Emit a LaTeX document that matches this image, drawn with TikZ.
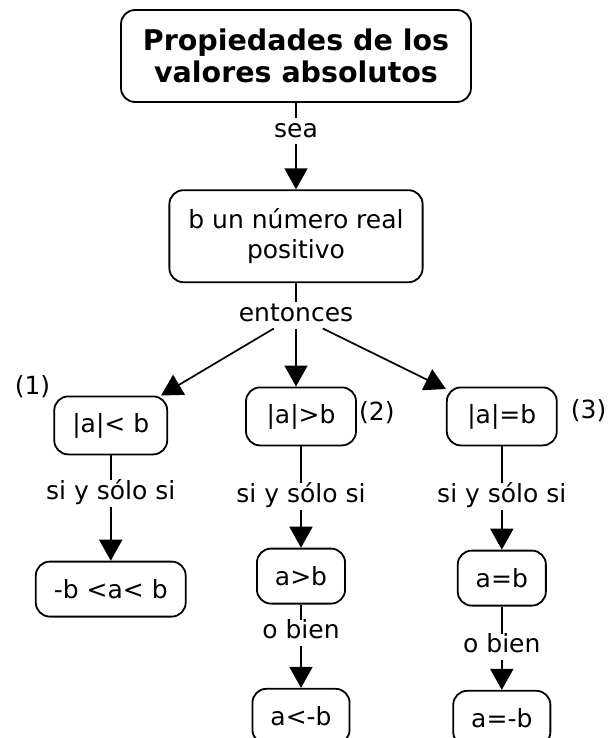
\documentclass[tikz,border=0pt]{standalone}
\usepackage{fontspec}
\setmainfont{DejaVu Sans}
\usetikzlibrary{positioning,arrows.meta}

\begin{document}
\begin{tikzpicture}[
    font=\fontsize{25}{30}\selectfont,
    node distance=20pt,
    caja/.style={draw, rounded corners=14pt, line width=1.8pt, align=center,
                 inner xsep=18pt, minimum height=55pt},
    prop/.style={caja, minimum width=110pt, minimum height=58pt},
    titulo/.style={caja, font=\fontsize{28.5}{32}\selectfont\bfseries,
                   minimum width=350pt, minimum height=92pt},
    enlace/.style={inner sep=2pt, text height=17pt, text depth=5pt},
    num/.style={inner sep=1pt},
    lin/.style={line width=1.7pt},
    arr/.style={lin, -{Triangle[length=21pt, width=23pt]}}
]
\useasboundingbox (0,0) rectangle (608pt,-738pt);
\node[titulo] (tit) at (296pt,-56pt) {Propiedades de los\\valores absolutos};
\node[enlace, below=15pt of tit] (sea) {sea};
\node[caja, below=45pt of sea, minimum height=92pt, inner xsep=19pt] (real) {b un número real\\positivo};
\node[enlace, below=19pt of real] (ent) {entonces};
\node[prop, below=58pt of ent, xshift=5pt] (abs2) {|a|>b};
\node[prop, left=77pt of abs2, yshift=-9pt] (abs1) {|a|< b};
\node[prop, right=89pt of abs2] (abs3) {|a|=b};
\node[num, above left=-3pt and 2pt of abs1.north west] (n1) {(1)};
\node[num, right=1pt of abs2, yshift=4pt] (n2) {(2)};
\node[num, right=12pt of abs3, yshift=6pt] (n3) {(3)};
\node[enlace, below=25pt of abs1] (si1) {si y sólo si};
\node[caja, below=54pt of si1] (res1) {-b <a< b};
\node[enlace, below=37pt of abs2] (si2) {si y sólo si};
\node[caja, below=38pt of si2] (res2a) {a>b};
\node[enlace, below=15pt of res2a] (ob2) {o bien};
\node[caja, below=42pt of ob2] (res2b) {a<-b};
\node[enlace, below=37pt of abs3] (si3) {si y sólo si};
\node[caja, below=40pt of si3] (res3a) {a=b};
\node[enlace, below=27pt of res3a] (ob3) {o bien};
\node[caja, below=30pt of ob3] (res3b) {a=-b};
\draw[lin] (tit) -- (sea);
\draw[arr] (sea) -- (real);
\draw[lin] (real) -- (ent);
\draw[arr] (ent) -- (abs1);
\draw[arr] (ent) -- (ent |- abs2.north);
\draw[arr] (ent) -- (abs3);
\draw[lin] (abs1) -- (si1);
\draw[arr] (si1) -- (res1);
\draw[lin] (abs2) -- (si2);
\draw[arr] (si2) -- (res2a);
\draw[lin] (res2a) -- (ob2);
\draw[arr] (ob2) -- (res2b);
\draw[lin] (abs3) -- (si3);
\draw[arr] (si3) -- (res3a);
\draw[lin] (res3a) -- (ob3);
\draw[arr] (ob3) -- (res3b);
\end{tikzpicture}
\end{document}
